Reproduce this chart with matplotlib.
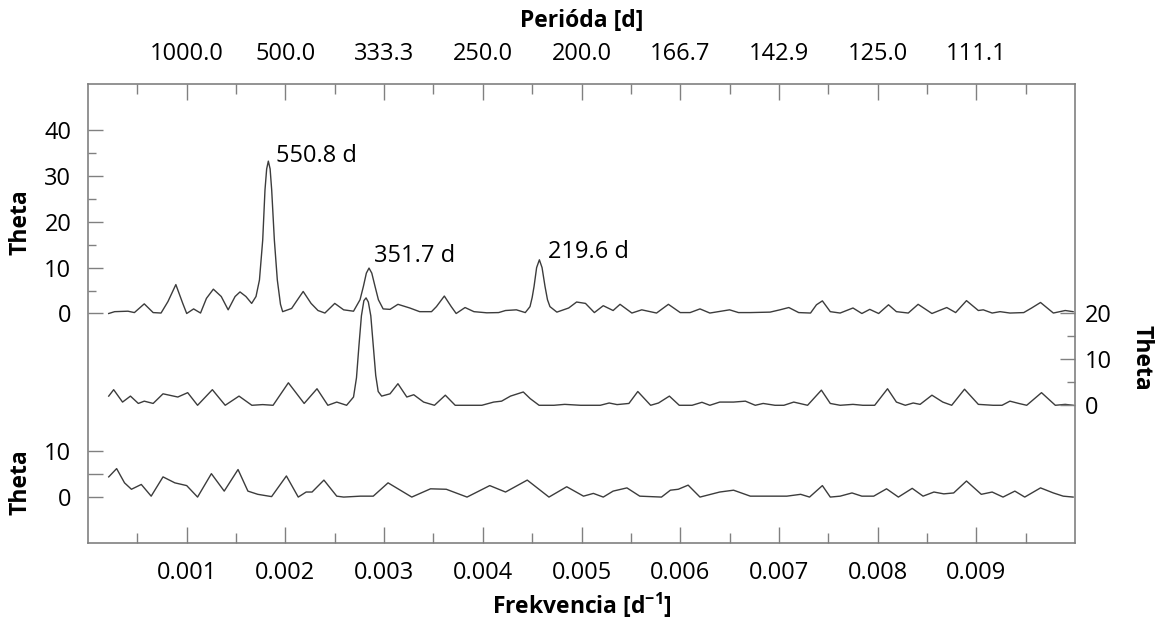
import numpy as np
import matplotlib.pyplot as plt
from matplotlib.ticker import FixedLocator, FixedFormatter, NullFormatter

plt.rcParams['font.family'] = ['Open Sans', 'DejaVu Sans']
plt.rcParams['mathtext.fontset'] = 'custom'
plt.rcParams['mathtext.rm'] = 'Open Sans'
plt.rcParams['mathtext.bf'] = 'Open Sans:bold'

# frequencies in units of 1e-3 d^-1, theta values
f_top = [0.21, 0.27, 0.405, 0.47, 0.57, 0.66, 0.74, 0.81, 0.89, 0.96, 1.00, 1.07, 1.14,
         1.20, 1.27, 1.35, 1.42, 1.49, 1.54, 1.60, 1.658, 1.702, 1.737, 1.77, 1.793, 1.81,
         1.827, 1.845, 1.861, 1.888, 1.918, 1.95, 1.972, 2.063, 2.11, 2.18, 2.26, 2.33,
         2.40, 2.50, 2.59, 2.69, 2.756, 2.79, 2.82, 2.847, 2.875, 2.908, 2.942, 2.99,
         3.06, 3.14, 3.26, 3.36, 3.48, 3.53, 3.61, 3.68, 3.73, 3.82, 3.91, 4.04, 4.16,
         4.23, 4.34, 4.43, 4.478, 4.50, 4.519, 4.545, 4.573, 4.60, 4.63, 4.655, 4.68,
         4.75, 4.87, 4.95, 5.04, 5.13, 5.22, 5.32, 5.39, 5.51, 5.61, 5.76, 5.88, 6.00,
         6.10, 6.20, 6.30, 6.50, 6.59, 6.71, 6.91, 7.01, 7.10, 7.20, 7.32, 7.38, 7.44,
         7.52, 7.62, 7.75, 7.84, 7.92, 8.01, 8.11, 8.19, 8.31, 8.41, 8.55, 8.70, 8.79,
         8.90, 9.02, 9.07, 9.16, 9.24, 9.34, 9.48, 9.56, 9.65, 9.78, 9.90, 9.98]
theta_top = [0.0, 0.4, 0.5, 0.2, 2.1, 0.2, 0.1, 2.6, 6.3, 2.2, 0.0, 1.0, 0.1,
             3.3, 5.3, 3.7, 0.8, 3.7, 4.7, 3.7, 2.2, 3.7, 7.3, 16.0, 26.9, 31.5,
             33.2, 31.5, 26.9, 16.0, 7.3, 2.0, 0.4, 1.1, 2.6, 4.8, 2.2, 0.65,
             0.1, 2.2, 0.8, 0.5, 3.0, 5.9, 8.8, 9.9, 8.8, 5.9, 3.0, 1.0,
             0.9, 2.0, 1.2, 0.4, 0.4, 1.5, 3.8, 1.5, 0.0, 1.3, 0.4, 0.15, 0.2,
             0.65, 0.8, 0.2, 1.5, 3.5, 5.9, 10.0, 11.7, 10.0, 5.9, 3.0, 1.5,
             0.3, 1.2, 2.5, 2.2, 0.2, 1.7, 0.65, 2.0, 0.1, 0.8, 0.1, 2.0, 0.2,
             0.2, 1.0, 0.1, 0.8, 0.2, 0.2, 0.3, 0.8, 1.3, 0.2, 0.1, 1.9, 2.75,
             0.4, 0.1, 1.2, 0.0, 0.9, 0.0, 1.9, 0.4, 0.1, 2.0, 0.0, 1.3, 0.2,
             2.8, 0.65, 0.8, 0.1, 0.4, 0.1, 0.2, 1.2, 2.4, 0.1, 0.65, 0.4]

f_mid = [0.21, 0.26, 0.35, 0.43, 0.51, 0.57, 0.66, 0.76, 0.91, 1.01, 1.11, 1.26, 1.39,
         1.53, 1.66, 1.77, 1.875, 2.03, 2.19, 2.32, 2.43, 2.52, 2.62, 2.69, 2.72, 2.745,
         2.77, 2.795, 2.817, 2.84, 2.865, 2.89, 2.915, 2.94, 2.975, 3.06, 3.14, 3.23,
         3.30, 3.40, 3.51, 3.62, 3.72, 3.87, 3.99, 4.11, 4.19, 4.28, 4.41, 4.48, 4.57,
         4.72, 4.83, 4.99, 5.05, 5.19, 5.28, 5.36, 5.48, 5.57, 5.70, 5.78, 5.89, 5.99,
         6.12, 6.22, 6.30, 6.40, 6.54, 6.66, 6.76, 6.84, 6.96, 7.05, 7.15, 7.29, 7.43,
         7.52, 7.62, 7.75, 7.85, 7.97, 8.10, 8.19, 8.28, 8.36, 8.43, 8.55, 8.66, 8.75,
         8.88, 9.02, 9.17, 9.26, 9.34, 9.43, 9.51, 9.66, 9.80, 9.90, 9.98]
theta_mid = [2.0, 3.4, 0.7, 2.0, 0.4, 0.9, 0.4, 2.5, 1.8, 2.75, 0.0, 3.4, 0.0,
             2.0, 0.0, 0.15, 0.0, 4.9, 0.4, 3.6, 0.0, 0.7, 0.0, 1.8, 6.0, 13.0,
             19.5, 22.8, 23.4, 22.5, 19.5, 13.0, 6.5, 3.0, 2.0, 2.5, 4.7, 1.8,
             2.3, 0.7, 0.0, 2.2, 0.0, 0.0, 0.0, 0.7, 0.9, 2.0, 2.9, 1.45, 0.0,
             0.0, 0.2, 0.0, 0.0, 0.0, 0.5, 0.15, 0.4, 3.0, 0.0, 0.5, 2.0, 0.0,
             0.0, 0.65, 0.0, 0.7, 0.7, 0.9, 0.0, 0.4, 0.0, 0.0, 0.7, 0.0, 3.3,
             0.4, 0.0, 0.2, 0.0, 0.0, 3.6, 0.7, 0.0, 0.5, 0.2, 2.2, 0.7, 0.0,
             3.5, 0.2, 0.0, 0.0, 0.9, 0.4, 0.0, 2.75, 0.0, 0.2, 0.0]

f_bot = [0.21, 0.29, 0.37, 0.44, 0.54, 0.64, 0.76, 0.88, 1.00, 1.11, 1.25, 1.38, 1.52,
         1.62, 1.72, 1.86, 2.01, 2.13, 2.21, 2.27, 2.39, 2.52, 2.59, 2.76, 2.89, 3.04,
         3.28, 3.47, 3.63, 3.84, 4.07, 4.23, 4.45, 4.67, 4.85, 5.02, 5.12, 5.22, 5.32,
         5.46, 5.59, 5.81, 5.90, 5.98, 6.08, 6.20, 6.40, 6.54, 6.71, 6.91, 7.08, 7.22,
         7.31, 7.44, 7.52, 7.62, 7.74, 7.84, 7.96, 8.09, 8.21, 8.35, 8.46, 8.57, 8.67,
         8.77, 8.90, 9.05, 9.16, 9.27, 9.39, 9.49, 9.65, 9.78, 9.88, 9.98]
theta_bot = [4.4, 6.2, 3.1, 1.7, 2.75, 0.2, 4.4, 3.1, 2.5, 0.0, 5.1, 1.3, 6.0,
             1.3, 0.6, 0.1, 4.6, 0.0, 1.1, 1.1, 3.7, 0.2, 0.0, 0.2, 0.2, 3.1,
             0.0, 1.8, 1.7, 0.0, 2.5, 1.1, 3.7, 0.0, 2.25, 0.2, 0.8, 0.0, 1.3,
             2.0, 0.2, 0.0, 1.5, 1.7, 2.6, 0.0, 1.1, 1.5, 0.2, 0.2, 0.2, 0.6,
             0.0, 2.5, 0.0, 0.2, 0.9, 0.2, 0.2, 1.8, 0.0, 1.9, 0.2, 1.1, 0.7,
             0.9, 3.5, 0.6, 1.1, 0.0, 1.3, 0.0, 2.0, 0.9, 0.2, 0.0]

offsets = {'top': 50, 'mid': 30, 'bot': 10}

peak_labels = ['550.8 d', '351.7 d', '219.6 d']
peak_pos = [(1.905, 83.0), (2.90, 61.2), (4.66, 62.1)]

top_ticks = [0.001, 0.002, 0.003, 0.004, 0.005, 0.006, 0.007, 0.008, 0.009]

line_col = '#3c3c3c'
frame_col = '#808080'
fs = 17

fig = plt.figure(figsize=(11.64, 6.28), dpi=100)
ax = fig.add_axes([0.0756, 0.1354, 0.848, 0.7308])

ax.plot(np.array(f_top) * 1e-3, np.array(theta_top) + offsets['top'], color=line_col, lw=1.0)
ax.plot(np.array(f_mid) * 1e-3, np.array(theta_mid) + offsets['mid'], color=line_col, lw=1.0)
ax.plot(np.array(f_bot) * 1e-3, np.array(theta_bot) + offsets['bot'], color=line_col, lw=1.0)

for txt, (fx, fy) in zip(peak_labels, peak_pos):
    ax.text(fx * 1e-3, fy, txt, fontsize=fs, va='baseline', ha='left')

ax.set_xlim(0, 0.01)
ax.set_ylim(0, 100)

for s in ax.spines.values():
    s.set_color(frame_col)
    s.set_linewidth(1.2)

# bottom axis
ax.xaxis.set_major_locator(FixedLocator(top_ticks))
ax.xaxis.set_major_formatter(FixedFormatter(['%.3f' % t for t in top_ticks]))
ax.xaxis.set_minor_locator(FixedLocator(np.arange(0.0005, 0.01, 0.001)))
ax.tick_params(axis='x', which='both', direction='in', color=frame_col, labelsize=fs, pad=13, top=False)
ax.tick_params(axis='x', which='major', length=11.5, width=1)
ax.tick_params(axis='x', which='minor', length=7, width=1)

# left axis: top and bottom curve scales
left_major = [10, 15, 20, 50, 60, 70, 80, 90]
left_lab = ['0', '', '10', '0', '10', '20', '30', '40']
ax.yaxis.set_major_locator(FixedLocator(left_major))
ax.yaxis.set_major_formatter(FixedFormatter(left_lab))
ax.yaxis.set_minor_locator(FixedLocator([55, 65, 75, 85]))
ax.tick_params(axis='y', which='both', direction='in', color=frame_col, labelsize=fs, pad=12, right=False)
ax.tick_params(axis='y', which='major', length=11, width=1)
ax.tick_params(axis='y', which='minor', length=6, width=1)

ax.set_xlabel(r'Frekvencia [d$^{\mathbf{-1}}$]', fontsize=16.5, fontweight='bold', labelpad=4)
ax.text(-0.068, 0.699, 'Theta', transform=ax.transAxes, rotation=90, fontsize=16.5,
        fontweight='bold', ha='center', va='center')
ax.text(-0.068, 0.133, 'Theta', transform=ax.transAxes, rotation=90, fontsize=16.5,
        fontweight='bold', ha='center', va='center')

# right axis: middle curve scale
axr = ax.twinx()
axr.set_ylim(0, 100)
axr.yaxis.set_major_locator(FixedLocator([30, 40, 50]))
axr.yaxis.set_major_formatter(FixedFormatter(['0', '10', '20']))
axr.yaxis.set_minor_locator(FixedLocator([35, 45]))
axr.tick_params(axis='y', which='both', direction='in', color=frame_col, labelsize=fs, pad=7)
axr.tick_params(axis='y', which='major', length=11, width=1)
axr.tick_params(axis='y', which='minor', length=6, width=1)
for s in axr.spines.values():
    s.set_visible(False)
axr.text(1.067, 0.403, 'Theta', transform=ax.transAxes, rotation=-90, fontsize=16.5,
         fontweight='bold', ha='center', va='center')

# top axis: period
axt = ax.twiny()
axt.set_xlim(0, 0.01)
axt.xaxis.set_major_locator(FixedLocator(top_ticks))
axt.xaxis.set_major_formatter(FixedFormatter(['%.1f' % (1.0 / t) for t in top_ticks]))
axt.xaxis.set_minor_locator(FixedLocator(np.arange(0.0005, 0.01, 0.001)))
axt.tick_params(axis='x', which='both', direction='in', color=frame_col, labelsize=fs, pad=13)
axt.tick_params(axis='x', which='major', length=11.5, width=1)
axt.tick_params(axis='x', which='minor', length=7, width=1)
axt.xaxis.set_minor_formatter(NullFormatter())
for s in axt.spines.values():
    s.set_visible(False)
axt.set_xlabel('Perióda [d]', fontsize=16.5, fontweight='bold', labelpad=11)

fig.savefig('out.png', dpi=100)
